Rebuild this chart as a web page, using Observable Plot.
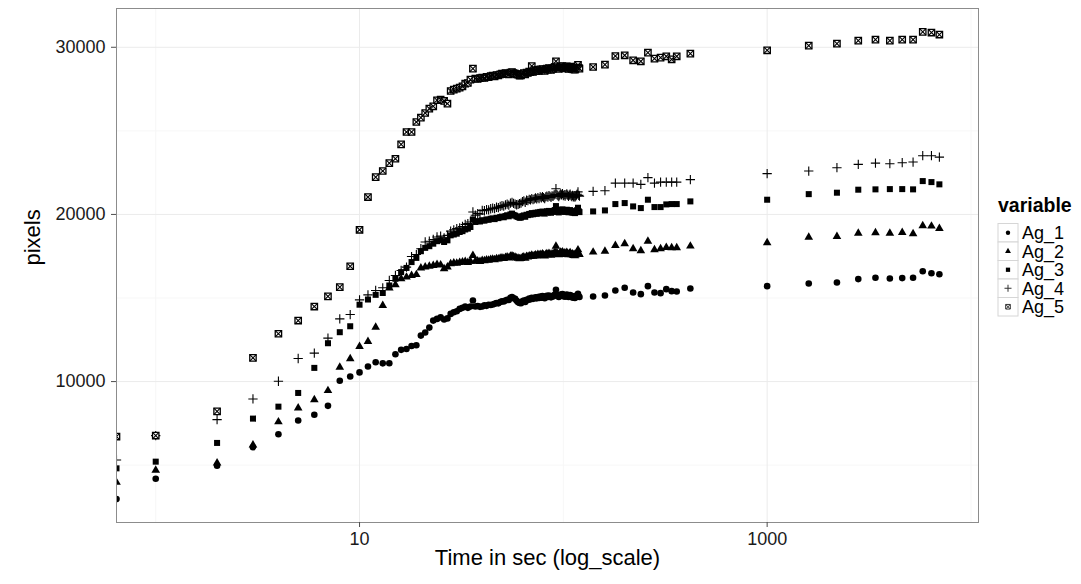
<!DOCTYPE html>
<html>
<head>
<meta charset="utf-8">
<script src="https://cdn.jsdelivr.net/npm/d3@7"></script>
<script src="https://cdn.jsdelivr.net/npm/@observablehq/plot@0.6"></script>
<style>
  html, body { margin: 0; padding: 0; background: #ffffff; }
  #chart { width: 1081px; height: 584px; }
</style>
</head>
<body>
<div id="chart"></div>
<script>
// ---- data (time in seconds; 0 is drawn at the left panel edge like ggplot's -Inf) ----
const times = [0,1,2,3,4,5,6,7,8,9,
  10,11,12,13,14,15,16,17,18,19,20,21,22,23,24,25,26,27,28,29,
  30,31,32,33,34,35,36,37,38,39,40,41,42,43,44,45,46,47,48,49,
  50,51,52,53,54,55,56,57,58,59,60,61,62,63,64,65,66,67,68,69,
  70,71,72,73,74,75,76,77,78,79,80,81,82,83,84,85,86,87,88,89,
  90,91,92,93,94,95,96,97,98,99,100,101,102,103,104,105,106,107,108,109,
  110,111,112,113,114,115,116,117,118,119,120,
  140,160,180,200,220,240,260,280,300,320,340,360,420,
  1000,1600,2200,2800,3400,4000,4600,5200,5800,6400,7000];

const ag1 = [2970,4190,4970,6070,6850,7670,8020,8550,10050,10300,
  10550,10900,11160,11090,11100,11640,11900,11950,12130,12170,
  12750,12940,13230,13650,13750,13840,13710,13780,14050,14150,
  14210,14350,14410,14490,14410,14490,14850,14490,14520,14470,
  14490,14560,14530,14600,14580,14610,14650,14700,14680,14760,
  14810,14790,14850,14900,14880,15010,15060,14990,14950,14830,
  14750,14700,14690,14800,14850,14760,14900,14880,14970,14920,
  15020,14950,14990,15050,14980,15060,15000,15090,15020,15110,
  15050,14990,15080,15130,15060,15150,15100,15040,15120,15090,
  15150,15200,15490,15180,15120,15060,15140,15210,15150,15230,
  15110,15170,15080,15150,15200,15120,15060,15130,15180,15090,
  15050,15110,15020,15080,15000,15060,15120,15180,15250,15100,
  15060,
  15090,15150,15450,15610,15330,15230,15710,15330,15290,15530,15410,15390,
  15570,
  15710,15870,15930,16130,16210,16170,16190,16210,16605,16485,16425];

const ag2 = [3970,4690,5130,6210,7590,8425,8920,9460,10860,11370,
  12100,12395,13250,14550,15600,15800,16150,16250,16350,16400,
  16800,16850,16900,16950,17000,16980,16750,16850,17050,17100,
  17080,17120,17150,17180,17130,17200,17550,17200,17220,17180,
  17250,17230,17280,17260,17300,17320,17290,17350,17330,17380,
  17400,17370,17420,17450,17400,17500,17520,17470,17440,17400,
  17380,17350,17360,17420,17450,17380,17480,17460,17520,17490,
  17560,17500,17530,17580,17520,17600,17540,17610,17560,17630,
  17580,17520,17600,17650,17580,17660,17620,17560,17640,17610,
  17670,17720,18100,17700,17640,17580,17660,17740,17680,17750,
  17640,17700,17600,17680,17730,17650,17590,17660,17710,17620,
  17580,17640,17550,17610,17530,17590,17650,17710,17880,17640,
  17600,
  17745,17800,18145,18245,17945,17825,18400,17885,17945,18025,18005,18005,
  18105,
  18305,18640,18680,18880,18900,18880,18920,18840,19320,19300,19160];

const ag3 = [4810,5210,6330,7785,8500,9320,10820,12295,12955,13310,
  14600,14910,15190,15300,15750,16150,16550,16800,17150,17400,
  17800,18000,18100,18250,18400,18450,18350,18450,18750,18800,
  18850,18950,19000,19100,19150,19250,19700,19550,19600,19580,
  19650,19630,19700,19680,19740,19760,19720,19800,19780,19840,
  19870,19830,19900,19950,19890,20000,20050,19970,19930,19880,
  19850,19800,19820,19900,19940,19860,19980,19960,20030,19990,
  20080,20010,20050,20100,20040,20120,20060,20150,20090,20170,
  20110,20050,20140,20190,20120,20210,20160,20100,20180,20150,
  20220,20260,20500,20250,20180,20120,20200,20280,20220,20300,
  20170,20240,20150,20230,20280,20200,20130,20210,20260,20170,
  20120,20190,20100,20160,20080,20140,20200,20260,20400,20190,
  20140,
  20180,20240,20620,20680,20480,20380,20880,20440,20440,20600,20620,20620,
  20780,
  20880,21215,21300,21480,21500,21515,21515,21500,21995,21935,21800];

const ag4 = [5310,6770,7725,8960,10020,11380,11700,12600,13750,14010,
  14890,15190,15450,15610,16050,16350,16650,16850,17480,17600,
  17950,18350,18400,18500,18650,18700,18600,18750,19000,19080,
  19150,19200,19280,19400,19450,19550,20150,19950,20050,20030,
  20240,20220,20290,20270,20340,20380,20350,20430,20410,20480,
  20530,20500,20570,20620,20560,20680,20720,20660,20620,20580,
  20600,20650,20680,20770,20810,20730,20850,20830,20900,20870,
  20950,20890,20930,20990,20930,21010,20950,21050,20990,21070,
  21010,20950,21050,21100,21030,21130,21080,21020,21110,21080,
  21150,21200,21540,21190,21130,21070,21150,21230,21170,21250,
  21120,21190,21100,21180,21230,21150,21080,21160,21210,21120,
  21070,21140,21050,21110,21030,21090,21150,21210,21350,21140,
  21090,
  21380,21420,21875,21875,21875,21800,22200,21875,21935,21935,21935,21935,
  22080,
  22440,22595,22795,22995,23070,23035,23095,23135,23515,23515,23430];

const ag5 = [6710,6770,8220,11420,12860,13650,14490,15100,15650,16900,
  19080,21040,22230,22600,23070,23330,24190,24930,24930,25530,
  25790,26070,26330,26470,26830,26870,26790,26630,27385,27465,
  27525,27585,27665,27825,27865,28065,28725,28125,28110,28150,
  28185,28170,28230,28210,28270,28300,28260,28340,28320,28380,
  28420,28390,28450,28420,28380,28480,28520,28460,28420,28380,
  28360,28300,28320,28400,28450,28370,28490,28470,28540,28510,
  28880,28530,28570,28630,28570,28650,28590,28680,28620,28700,
  28640,28580,28680,28730,28660,28760,28710,28650,28740,28710,
  28780,28830,29160,28820,28760,28700,28780,28860,28800,28880,
  28750,28820,28730,28810,28860,28780,28710,28790,28840,28750,
  28700,28770,28680,28740,28660,28720,28780,28840,28950,28770,
  28720,
  28820,28960,29480,29520,29220,29160,29680,29320,29380,29460,29280,29460,
  29620,
  29820,30100,30220,30400,30460,30400,30460,30460,30920,30880,30760];

const seriesNames = ["Ag_1", "Ag_2", "Ag_3", "Ag_4", "Ag_5"];
const seriesValues = [ag1, ag2, ag3, ag4, ag5];

const xMajor = [10, 1000];
const xMinor = [1, 100, 10000];
const yMajor = [10000, 20000, 30000];
const yMinor = [5000, 15000, 25000];

// ---- build table ----
const rows = seriesNames.flatMap((s, i) =>
  times.map((t, j) => ({series: s, t, v: seriesValues[i][j]})));

const xDomain = [0.642, 10890];
const yDomain = [1570, 32320];
const xPos = d => (d.t > 0 ? d.t : xDomain[0]);

const bySeries = s => rows.filter(d => d.series === s);

const FONT = "'Liberation Sans', Arial, Helvetica, sans-serif";

const chart = Plot.plot({
  width: 1081,
  height: 584,
  marginLeft: 116,
  marginRight: 103,
  marginTop: 8,
  marginBottom: 62,
  style: {fontFamily: FONT, fontSize: "18px", background: "#ffffff", color: "#1a1a1a", overflow: "visible"},
  x: {type: "log", domain: xDomain, label: null},
  y: {domain: yDomain, label: null},
  marks: [
    Plot.ruleY(yMinor, {stroke: "#f7f7f7", strokeWidth: 1}),
    Plot.ruleX(xMinor, {stroke: "#f7f7f7", strokeWidth: 1}),
    Plot.ruleY(yMajor, {stroke: "#ebebeb", strokeWidth: 1}),
    Plot.ruleX(xMajor, {stroke: "#ebebeb", strokeWidth: 1}),
    // Ag_1 : filled circle
    Plot.dot(bySeries("Ag_1"), {x: xPos, y: "v", symbol: "circle", r: 3.3, fill: "#000", stroke: "none", clip: true}),
    // Ag_2 : filled triangle
    Plot.dot(bySeries("Ag_2"), {x: xPos, y: "v", symbol: "triangle", r: 3.2, fill: "#000", stroke: "none", clip: true}),
    // Ag_3 : filled square
    Plot.dot(bySeries("Ag_3"), {x: xPos, y: "v", symbol: "square", r: 3.4, fill: "#000", stroke: "none", clip: true}),
    // Ag_4 : plus
    Plot.dot(bySeries("Ag_4"), {x: xPos, y: "v", symbol: "plus", r: 3.1, fill: "none", stroke: "#000", strokeWidth: 1.1, clip: true}),
    // Ag_5 : square with cross
    Plot.dot(bySeries("Ag_5"), {x: xPos, y: "v", symbol: "square", r: 3.6, fill: "#ffffff", stroke: "#000", strokeWidth: 1.3, clip: true}),
    Plot.dot(bySeries("Ag_5"), {x: xPos, y: "v", symbol: "times", r: 3.0, fill: "none", stroke: "#000", strokeWidth: 1.1, clip: true}),
    Plot.frame({stroke: "#8c8c8c", strokeWidth: 1}),
    Plot.axisX(xMajor, {tickSize: 5, tickPadding: 5, tickFormat: d => String(d), fontSize: 18, stroke: "#4d4d4d", fill: "#1a1a1a", label: null}),
    Plot.axisY(yMajor, {tickSize: 5, tickPadding: 6, tickFormat: d => String(d), fontSize: 18, stroke: "#4d4d4d", fill: "#1a1a1a", label: null}),
    Plot.text(["Time in sec (log_scale)"], {frameAnchor: "bottom", dy: 42, fontSize: 22, fill: "#000"}),
    Plot.text(["pixels"], {frameAnchor: "left", dx: -84, rotate: -90, fontSize: 22, fill: "#000"})
  ]
});

document.getElementById("chart").appendChild(chart);

// ---- legend (drawn into the same svg, right of the panel) ----
const svg = d3.select(chart);
const lg = svg.append("g").attr("transform", "translate(998,0)")
  .attr("text-anchor", "start").style("font-family", FONT);
lg.append("text").attr("x", 0).attr("y", 212).attr("font-size", 19.5).attr("font-weight", "bold")
  .attr("text-anchor", "start").attr("fill", "#000").text("variable");
const keyW = 20, keyH = 18.5, top0 = 223.5;
const sym = (type, r) => d3.symbol(type, r * r * Math.PI)();
seriesNames.forEach((name, i) => {
  const y0 = top0 + i * keyH;
  const g = lg.append("g");
  g.append("rect").attr("x", 0).attr("y", y0).attr("width", keyW).attr("height", keyH)
    .attr("fill", "#fff").attr("stroke", "#d6d6d6").attr("stroke-width", 1);
  const c = g.append("g").attr("transform", `translate(${keyW / 2},${y0 + keyH / 2})`);
  if (i === 0) c.append("path").attr("d", sym(d3.symbolCircle, 2.2)).attr("fill", "#000");
  if (i === 1) c.append("path").attr("d", sym(d3.symbolTriangle, 2.2)).attr("fill", "#000");
  if (i === 2) c.append("path").attr("d", sym(d3.symbolSquare, 2.4)).attr("fill", "#000");
  if (i === 3) c.append("path").attr("d", sym(d3.symbolPlus, 2.4)).attr("fill", "none").attr("stroke", "#333");
  if (i === 4) {
    c.append("path").attr("d", sym(d3.symbolSquare, 2.6)).attr("fill", "#fff").attr("stroke", "#333");
    c.append("path").attr("d", sym(d3.symbolTimes, 2.1)).attr("fill", "none").attr("stroke", "#333");
  }
  g.append("text").attr("x", keyW + 4).attr("y", y0 + keyH / 2).attr("dy", "0.36em")
    .attr("text-anchor", "start").attr("font-size", 18).attr("fill", "#000").text(name);
});
</script>
</body>
</html>
